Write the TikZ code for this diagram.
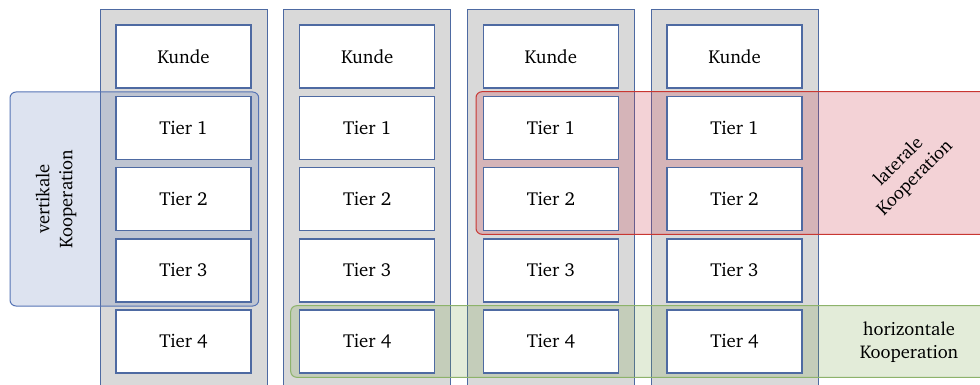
\documentclass[tikz,border=0pt]{standalone}
\usepackage[T1]{fontenc}
\usepackage{charter}
\definecolor{colfill}{RGB}{217,217,217}
\definecolor{edgeblue}{RGB}{78,106,162}
\definecolor{vblue}{RGB}{85,115,180}
\definecolor{lred}{RGB}{200,50,70}
\definecolor{lredline}{RGB}{200,55,50}
\definecolor{hgreen}{RGB}{115,160,65}
\definecolor{hgreenline}{RGB}{141,179,107}
\tikzset{
  column/.style={draw=edgeblue, line width=0.8pt, fill=colfill},
  cell/.style={draw=edgeblue, line width=1.4pt, fill=white,
    minimum width=135pt, minimum height=63pt, inner sep=0pt,
    font=\fontsize{18.8}{22}\selectfont},
  coop/.style={rounded corners=6pt, line width=1pt},
  cooplabel/.style={align=center, font=\fontsize{18.5}{23}\selectfont, inner sep=0pt}
}
\begin{document}
\begin{tikzpicture}[x=1pt,y=-1pt]
\useasboundingbox (0,0) rectangle (980,385);
\clip (0,0) rectangle (980,385);

% supply-chain columns
\foreach \c in {1,...,4} {
  \pgfmathsetmacro{\cx}{183.5+183.7*(\c-1)}
  \draw[column] (\cx-83.5,9) rectangle (\cx+83.5,400);
}

% cooperation areas
\draw[coop, draw=vblue, fill=vblue, fill opacity=0.2]
  (10,92) rectangle (258.7,306);
\draw[coop, draw=lredline, fill=lred, fill opacity=0.22]
  (476,91.7) rectangle (1000,234.3);
\draw[coop, draw=hgreenline, fill=hgreen, fill opacity=0.2]
  (290.7,305.7) rectangle (1000,377.3);

% cells of every column
\foreach \c in {1,...,4} {
  \pgfmathsetmacro{\cx}{183.5+183.7*(\c-1)}
  \node[cell] (k\c) at (\cx,56.7) {Kunde};
  \foreach \t in {1,...,4} {
    \node[cell] (t\c\t) at (\cx,56.7+71.2*\t) {Tier \t};
  }
}

% labels of the cooperation areas
\node[cooplabel, rotate=90] (vlab) at (56,199) {vertikale\\Kooperation};
\node[cooplabel, rotate=45] (llab) at (907,170) {laterale\\Kooperation};
\node[cooplabel] (hlab) at (909,342) {horizontale\\Kooperation};
\end{tikzpicture}
\end{document}
